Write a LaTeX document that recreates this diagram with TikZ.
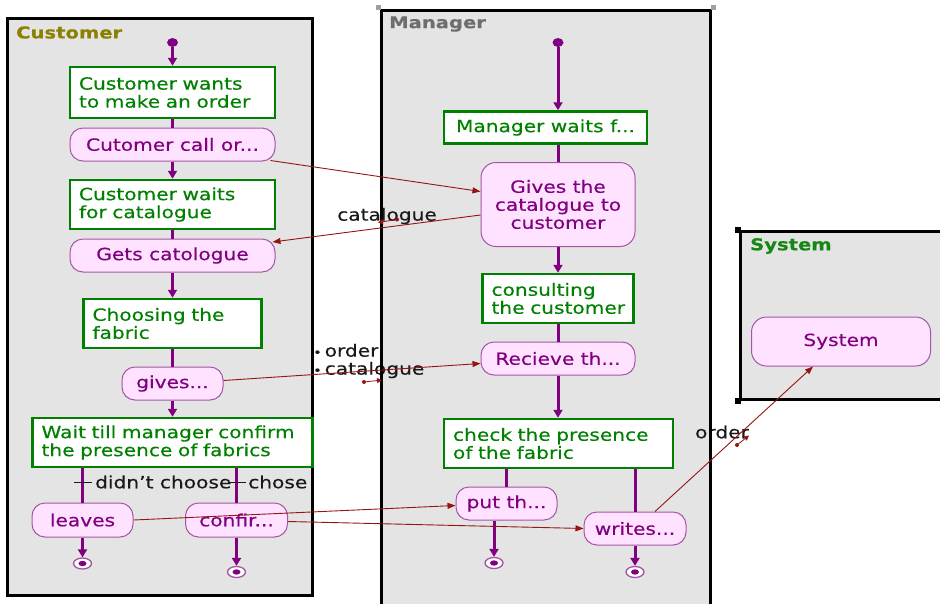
\documentclass[tikz,border=0pt]{standalone}
\usepackage{fontspec}
\setmainfont{DejaVu Sans}[FakeStretch=1.2,FakeBold=0.35]
\usetikzlibrary{arrows.meta,calc,shapes.geometric}

\definecolor{lanegray}{RGB}{228,228,228}
\definecolor{boxgreen}{RGB}{0,128,0}
\definecolor{flowpurple}{RGB}{128,0,128}
\definecolor{pillfill}{RGB}{255,226,255}
\definecolor{pillline}{RGB}{165,85,165}
\definecolor{msgred}{RGB}{150,20,20}
\definecolor{custolive}{RGB}{140,128,0}
\definecolor{mangray}{RGB}{110,110,110}
\definecolor{sysgreen}{RGB}{20,135,20}
\definecolor{labelink}{RGB}{25,25,25}
\definecolor{handlegray}{RGB}{160,160,160}

\begin{document}
\begin{tikzpicture}[x=1pt,y=-1pt,
  font=\fontsize{16.8}{18}\selectfont,
  laneline/.style={draw=black, line width=3pt},
  lanetitle/.style={anchor=west, inner sep=0pt, font=\bfseries\fontsize{16.3}{18}\selectfont},
  gbox/.style={draw=boxgreen, line width=2.5pt, fill=white, text=boxgreen,
    align=left, inner xsep=9pt, inner ysep=0pt},
  pill/.style={draw=pillline, line width=1pt, fill=pillfill, text=flowpurple,
    align=center, rounded corners=13pt, inner sep=0pt},
  startdot/.style={ellipse, fill=flowpurple, minimum width=11pt, minimum height=9pt, inner sep=0pt},
  endnode/.style={ellipse, draw=pillline, line width=1.3pt, fill=white,
    minimum width=18pt, minimum height=11pt, inner sep=0pt,
    path picture={\fill[flowpurple] (path picture bounding box.center)
      ellipse [x radius=4pt, y radius=2.7pt];}},
  flow/.style={draw=flowpurple, line width=3pt},
  flowarrow/.style={flow, -{Triangle[width=9pt,length=8pt]}},
  msg/.style={draw=msgred, line width=0.9pt, -{Triangle[width=6pt,length=8pt]}},
  markarrow/.style={draw=msgred, line width=0.8pt, -{Triangle[width=5pt,length=5pt]}},
  msglabel/.style={text=labelink, inner sep=0pt},
  tick/.style={draw=labelink, line width=0.8pt}
]
\useasboundingbox (0,0) rectangle (940,603);

% ---- swimlane backgrounds ----
\fill[lanegray] (7,18) rectangle (312,595);
\fill[lanegray] (381,10) rectangle (710,606);
\fill[lanegray] (740,231) rectangle (942,399);

% ---- message labels (under the lane borders) ----
\node[msglabel] (lcat) at (387,216) {catalogue};
\node[msglabel, anchor=west, align=left] (lgive) at (313,361)
  {{\fontsize{12}{12}\selectfont•}\hspace{3pt}order\\{\fontsize{12}{12}\selectfont•}\hspace{3pt}catalogue};
\node[msglabel] (lord) at (722,432) {order};

% ---- swimlane borders ----
\draw[laneline] (7,18) rectangle (312,595);
\draw[laneline] (381,606) -- (381,10) -- (710,10) -- (710,606);
\draw[laneline] (942,231) -- (740,231) -- (740,399) -- (942,399);
\fill[handlegray] (375.5,4.5) rectangle (380.5,9.5);
\fill[handlegray] (710.5,4.5) rectangle (715.5,9.5);
\fill[black] (734.5,227) rectangle (740.5,233);
\fill[black] (734.5,398) rectangle (740.5,404);

% ---- lane titles ----
\node[lanetitle, text=custolive] (tcust) at (16,32.5) {Customer};
\node[lanetitle, text=mangray] (tman) at (389,24) {Manager};
\node[lanetitle, text=sysgreen] (tsys) at (750,246) {System};

% ---- Customer lane ----
\node[startdot] (c0) at (172.5,42.5) {};
\node[gbox, text width=187pt, minimum height=51pt] (c1) at (172.5,92.5)
  {\mbox{Customer wants}\\\mbox{to make an order}};
\node[pill, minimum width=205pt, minimum height=33pt] (c2) at (172.5,144.5) {Cutomer call or...};
\node[gbox, text width=187pt, minimum height=49pt] (c3) at (172.5,204.5)
  {\mbox{Customer waits}\\\mbox{for catalogue}};
\node[pill, minimum width=205pt, minimum height=33pt] (c4) at (172.5,255.5) {Gets catologue};
\node[gbox, text width=160pt, minimum height=49pt] (c5) at (172.5,323.5)
  {\mbox{Choosing the}\\\mbox{fabric}};
\node[pill, minimum width=101pt, minimum height=33pt] (c6) at (172.5,383.5) {gives...};
\node[gbox, text width=262pt, minimum height=49pt] (c7) at (172.5,442.5)
  {\mbox{Wait till manager confirm}\\\mbox{the presence of fabrics}};
\node[pill, minimum width=101pt, minimum height=34pt] (c8) at (82.5,520) {leaves};
\node[pill, minimum width=102pt, minimum height=34pt] (c9) at (236.5,520) {confir...};
\node[endnode] (f1) at (82.5,563.5) {};
\node[endnode] (f2) at (236.5,572) {};

% ---- Manager lane ----
\node[startdot] (m0) at (558,42.5) {};
\node[gbox, minimum width=203pt, minimum height=32pt] (m1) at (545.5,127.5) {Manager waits f...};
\node[pill, rounded corners=15pt, minimum width=154pt, minimum height=84pt] (m2) at (558,204.5)
  {Gives the\\catalogue to\\customer};
\node[gbox, text width=133pt, minimum height=49pt] (m3) at (558,298.5)
  {\mbox{consulting}\\\mbox{the customer}};
\node[pill, minimum width=154pt, minimum height=33pt] (m4) at (558,358.5) {Recieve th...};
\node[gbox, text width=211pt, minimum height=49pt] (m5) at (558.5,443.5)
  {\mbox{check the presence}\\\mbox{of the fabric}};
\node[pill, minimum width=101pt, minimum height=33pt] (m6) at (506.5,503.5) {put th...};
\node[pill, minimum width=102pt, minimum height=33pt] (m7) at (635,528.5) {writes...};
\node[endnode] (f3) at (494,563) {};
\node[endnode] (f4) at (635,572) {};

% ---- System lane ----
\node[pill, rounded corners=15pt, minimum width=179pt, minimum height=49pt] (sys) at (841,341.5) {System};

% ---- control flow, Customer ----
\draw[flowarrow] (c0) -- (c0 |- c1.north);
\draw[flow] (c1) -- (c2);
\draw[flowarrow] (c2) -- (c3);
\draw[flow] (c3) -- (c4);
\draw[flowarrow] (c4) -- (c5);
\draw[flow] (c5) -- (c6);
\draw[flowarrow] (c6) -- (c7);
\draw[flow] (c8.north |- c7.south) -- (c8.north);
\draw[flow] (c9.north |- c7.south) -- (c9.north);
\draw[flowarrow] (c8) -- (f1);
\draw[flowarrow] (c9) -- (f2);

% guard labels on the two branches
\coordinate (t1a) at (74,482);  \coordinate (t1b) at (92,482);
\coordinate (t2a) at (229,482); \coordinate (t2b) at (246,482);
\draw[tick] (t1a) -- (t1b);
\draw[tick] (t2a) -- (t2b);
\node[msglabel, anchor=west] (ldc) at (95,482) {didn't choose};
\node[msglabel, anchor=west] (lch) at (248,482) {chose};

% ---- control flow, Manager ----
\draw[flowarrow] (m0) -- (m0 |- m1.north);
\draw[flow] (m0 |- m1.south) -- (m2.north);
\draw[flowarrow] (m2) -- (m3);
\draw[flow] (m3) -- (m4);
\draw[flowarrow] (m4.south) -- (m4.south |- m5.north);
\draw[flow] (m6.north |- m5.south) -- (m6.north);
\draw[flow] (m7.north |- m5.south) -- (m7.north);
\draw[flowarrow] (f3 |- m6.south) -- (f3);
\draw[flowarrow] (m7) -- (f4);

% ---- object / message flows ----
\draw[msg] ($(c2.south east)+(-5,-1)$) -- ($(m2.west)+(0,-13)$);
\draw[msg] ($(m2.west)+(0,10.5)$) -- ($(c4.north east)+(-3,3.5)$);
\draw[msg] ($(c6.east)+(0,-3)$) -- ($(m4.west)+(0,5)$);
\draw[msg] (c8.east) -- ($(m6.west)+(0,2)$);
\draw[msg] ($(c9.east)+(0,1.5)$) -- (m7.west);
\draw[msg] ($(m7.north)+(20,0)$) -- ($(sys.south)+(-28,0)$);

% small anchors of the message labels
\coordinate (k1a) at (397,219.5); \coordinate (k1b) at (378,222.5);
\coordinate (k2a) at (364,382);   \coordinate (k2b) at (382,380);
\coordinate (k3a) at (737,445);   \coordinate (k3b) at (749,435.5);
\fill[msgred] (k1a) circle (2pt);
\fill[msgred] (k2a) circle (2pt);
\fill[msgred] (k3a) circle (2pt);
\draw[markarrow] (k1a) -- (k1b);
\draw[markarrow] (k2a) -- (k2b);
\draw[markarrow] (k3a) -- (k3b);
\end{tikzpicture}
\end{document}
